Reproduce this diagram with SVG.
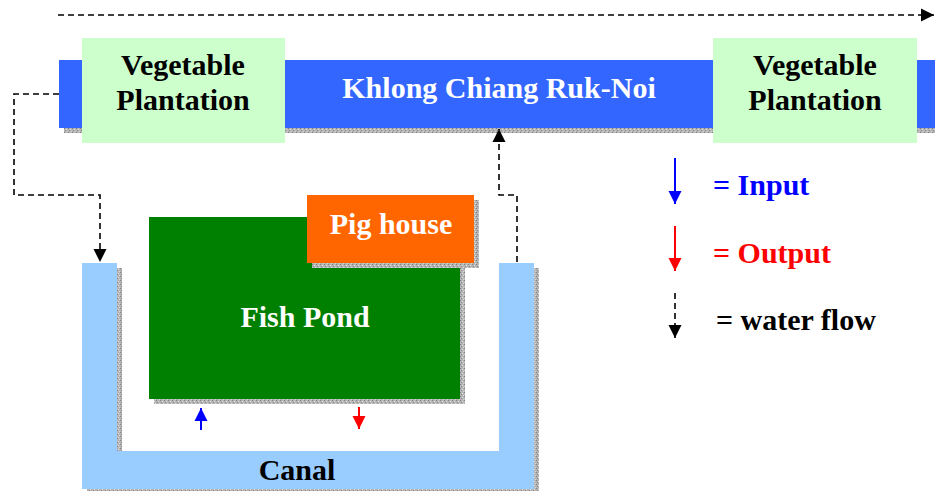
<svg xmlns="http://www.w3.org/2000/svg" width="935" height="491" viewBox="0 0 935 491">
<defs>
<pattern id="sh" width="4" height="4" patternUnits="userSpaceOnUse">
<rect width="4" height="4" fill="#b4b4b4"/>
<rect x="0" y="0" width="1" height="1" fill="#808080"/>
<rect x="2" y="1" width="1" height="1" fill="#e0e0e0"/>
<rect x="1" y="2" width="1" height="1" fill="#8c8c8c"/>
<rect x="3" y="3" width="1" height="1" fill="#d8d8d8"/>
</pattern>
<marker id="ab" markerWidth="14" markerHeight="14" refX="13" refY="7" orient="auto" markerUnits="userSpaceOnUse">
<path d="M0,0.5 L13,7 L0,13.5 Z" fill="#000"/>
</marker>
<marker id="abl" markerWidth="14" markerHeight="14" refX="13" refY="7" orient="auto" markerUnits="userSpaceOnUse">
<path d="M0,0.5 L13,7 L0,13.5 Z" fill="#0000FF"/>
</marker>
<marker id="ar" markerWidth="14" markerHeight="14" refX="13" refY="7" orient="auto" markerUnits="userSpaceOnUse">
<path d="M0,0.5 L13,7 L0,13.5 Z" fill="#FF0000"/>
</marker>
</defs>
<style>
text{font-family:"Liberation Serif","Times New Roman",serif;font-weight:bold;font-size:30px}
.w{fill:#fff}
.k{fill:#000}
.flow{fill:none;stroke:#000;stroke-width:1.6;stroke-dasharray:6,4}
.shadow{fill:url(#sh)}
</style>
<g id="khlong">
<rect class="shadow" x="64" y="127" width="871" height="6"/>
<rect x="59" y="60" width="876" height="68" fill="#3366FF"/>
<text class="w" x="499" y="98" text-anchor="middle">Khlong Chiang Ruk-Noi</text>
</g>
<g id="veg-left">
<rect x="82" y="38" width="203" height="105" fill="#CCFFCC"/>
<text class="k" x="183" y="75" text-anchor="middle">Vegetable</text>
<text class="k" x="183" y="110" text-anchor="middle">Plantation</text>
</g>
<g id="veg-right">
<rect x="713" y="38" width="204" height="105" fill="#CCFFCC"/>
<text class="k" x="815" y="75" text-anchor="middle">Vegetable</text>
<text class="k" x="815" y="110" text-anchor="middle">Plantation</text>
</g>
<g id="canal">
<rect class="shadow" x="117" y="268" width="5" height="183"/>
<rect class="shadow" x="534" y="268" width="5" height="226"/>
<rect class="shadow" x="87" y="489" width="452" height="4"/>
<path d="M82,263 H117 V451 H499 V263 H534 V489 H82 Z" fill="#99CCFF"/>
<text class="k" x="297" y="480" text-anchor="middle">Canal</text>
</g>
<g id="fish-pond">
<rect class="shadow" x="154" y="222" width="311" height="182"/>
<rect x="149" y="217" width="311" height="182" fill="#008000"/>
<text class="w" x="305" y="327" text-anchor="middle">Fish Pond</text>
</g>
<g id="pig-house">
<rect class="shadow" x="312" y="200" width="167" height="68"/>
<rect x="307" y="195" width="167" height="68" fill="#FF6600"/>
<text class="w" x="391" y="234" text-anchor="middle">Pig house</text>
</g>
<g id="connectors">
<path class="flow" d="M58,15 H934" marker-end="url(#ab)"/>
<path class="flow" d="M59,94 H14 V195 H100 V262" marker-end="url(#ab)"/>
<path class="flow" d="M517,262 V195 H499 V129" marker-end="url(#ab)"/>
<path d="M201,430 V408" stroke="#0000FF" stroke-width="2" fill="none" marker-end="url(#abl)"/>
<path d="M359,407 V429" stroke="#FF0000" stroke-width="2" fill="none" marker-end="url(#ar)"/>
</g>
<g id="legend">
<path d="M675,158 V204" stroke="#0000FF" stroke-width="2" fill="none" marker-end="url(#abl)"/>
<text x="713" y="195" fill="#0000FF">= Input</text>
<path d="M675,226 V271" stroke="#FF0000" stroke-width="2" fill="none" marker-end="url(#ar)"/>
<text x="713" y="263" fill="#FF0000">= Output</text>
<path class="flow" d="M675,293 V338" marker-end="url(#ab)"/>
<text class="k" x="716" y="330">= water flow</text>
</g>
</svg>
